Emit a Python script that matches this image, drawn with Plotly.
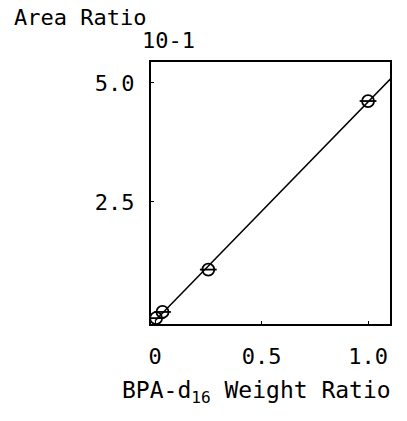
import numpy as np
import plotly.graph_objects as go

# Calibration data: BPA-d16 weight ratio vs. peak area ratio (x10^-1)
weight_ratio = [0.005, 0.035, 0.25, 1.0]
area_ratio = [0.06, 0.19, 1.08, 4.62]

x_ticks = [0, 0.5, 1.0]
x_tick_labels = ["0", "0.5", "1.0"]
y_ticks = [2.5, 5.0]
y_tick_labels = ["2.5", "5.0"]

FONT = "DejaVu Sans Mono"
W, H = 407, 421
L, R, T, B = 151, 17, 62, 97

# least-squares calibration line
slope, intercept = np.polyfit(weight_ratio, area_ratio, 1)
line_x = np.array([0.0, 1.12])
line_y = slope * line_x + intercept

fig = go.Figure()
fig.add_trace(go.Scatter(
    x=line_x, y=line_y, mode="lines",
    line=dict(color="black", width=1.5), hoverinfo="skip",
))
fig.add_trace(go.Scatter(
    x=weight_ratio, y=area_ratio, mode="markers",
    marker=dict(symbol="circle-open", size=12, color="black",
                line=dict(width=1.8, color="black")),
))
fig.add_trace(go.Scatter(
    x=weight_ratio, y=area_ratio, mode="markers",
    marker=dict(symbol="line-ew", size=12, color="black",
                line=dict(width=1.8, color="black")),
))


def px_to_paper(px, py):
    return (px - L) / (W - L - R), 1 - (py - T) / (H - T - B)


annotations = []
for text, px, py, anchor, size in [
    ("Area Ratio", 12, 18, "left", 22),
    ("10-1", 140, 41, "left", 22),
    ("BPA-d<sub>16</sub> Weight Ratio", 256, 392, "center", 23),
]:
    ax, ay = px_to_paper(px, py)
    annotations.append(dict(
        text=text, x=ax, y=ay, xref="paper", yref="paper",
        xanchor=anchor, yanchor="middle", showarrow=False,
        font=dict(family=FONT, size=size, color="black"),
    ))

fig.update_layout(
    width=W, height=H,
    margin=dict(l=L, r=R, t=T, b=B),
    paper_bgcolor="white", plot_bgcolor="white",
    showlegend=False,
    annotations=annotations,
    font=dict(family=FONT, size=22, color="black"),
)
fig.update_xaxes(
    range=[-0.019, 1.103], tickvals=x_ticks, ticktext=x_tick_labels,
    showgrid=False, zeroline=False, showline=True, mirror=True,
    linecolor="black", linewidth=2, ticks="inside", ticklen=3,
    tickcolor="black", ticklabelstandoff=12,
    tickfont=dict(family=FONT, size=22, color="black"),
)
fig.update_yaxes(
    range=[-0.063, 5.44], tickvals=y_ticks, ticktext=y_tick_labels,
    showgrid=False, zeroline=False, showline=True, mirror=True,
    linecolor="black", linewidth=2, ticks="inside", ticklen=3,
    tickcolor="black", ticklabelstandoff=10,
    tickfont=dict(family=FONT, size=22, color="black"),
)

fig.write_html("out.html")
